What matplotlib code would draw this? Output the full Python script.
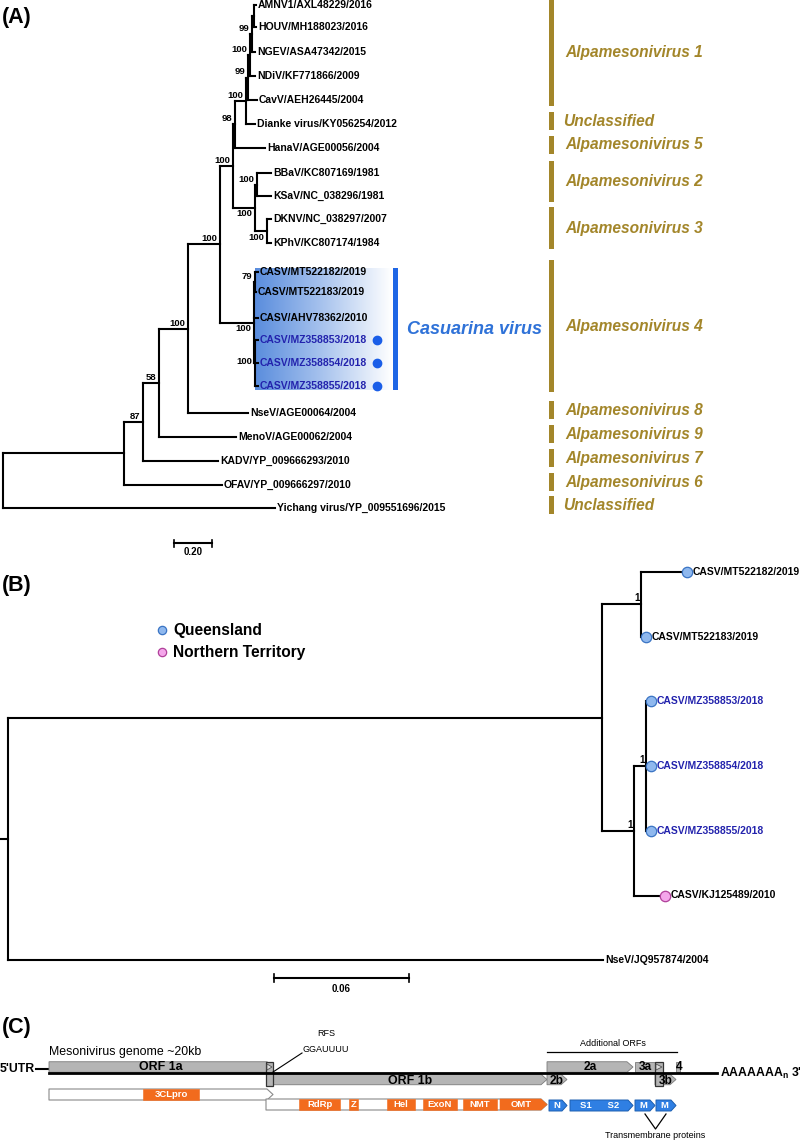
import matplotlib
matplotlib.use('Agg')
import matplotlib.pyplot as plt
import numpy as np
from matplotlib.collections import LineCollection
from matplotlib.patches import Polygon, Rectangle
from matplotlib.colors import LinearSegmentedColormap

plt.rcParams['font.family'] = ['Liberation Sans', 'DejaVu Sans']

# ======================= DATA =======================
# ---- Panel A: ML tree of mesoniviruses (branch lengths in subst./site, bootstrap %) ----
_n254 = "(AMNV1:0.011,HOUV:0.011)"
_n252 = "(" + _n254 + ":0.010,NGEV:0.015)99"
_n250 = "(" + _n252 + ":0.011,NDiV:0.026)100"
_n248 = "(" + _n250 + ":0.011,CavV:0.048)99"
_n246 = "(" + _n248 + ":0.010,Dianke:0.047)100"
_n235 = "(" + _n246 + ":0.058,HanaV:0.158)98"
_n255 = "((BBaV:0.074,KSaV:0.074)100:0.011,(DKNV:0.022,KPhV:0.022)100:0.063)100"
_n233 = "(" + _n235 + ":0.010," + _n255 + ":0.115)100"
_ncas = "((MT522182:0.016,MT522183:0.006)79:0.005,AHV:0.021,(MZ853:0.016,MZ854:0.016,MZ855:0.016)100:0.005)100"
_n220 = "(" + _n233 + ":0.069," + _ncas + ":0.179)100"
newick_A = "(((((" + _n220 + ":0.168,NseV:0.315)100:0.153,MenoV:0.405)58:0.084,KADV:0.395)87:0.100,OFAV:0.516):0.637,Yichang:1.432);"

tips_A = ['AMNV1', 'HOUV', 'NGEV', 'NDiV', 'CavV', 'Dianke', 'HanaV', 'BBaV', 'KSaV',
          'DKNV', 'KPhV', 'MT522182', 'MT522183', 'AHV', 'MZ853', 'MZ854', 'MZ855',
          'NseV', 'MenoV', 'KADV', 'OFAV', 'Yichang']
tip_labels_A = ['AMNV1/AXL48229/2016', 'HOUV/MH188023/2016', 'NGEV/ASA47342/2015',
                'NDiV/KF771866/2009', 'CavV/AEH26445/2004', 'Dianke virus/KY056254/2012',
                'HanaV/AGE00056/2004', 'BBaV/KC807169/1981', 'KSaV/NC_038296/1981',
                'DKNV/NC_038297/2007', 'KPhV/KC807174/1984', 'CASV/MT522182/2019',
                'CASV/MT522183/2019', 'CASV/AHV78362/2010', 'CASV/MZ358853/2018',
                'CASV/MZ358854/2018', 'CASV/MZ358855/2018', 'NseV/AGE00064/2004',
                'MenoV/AGE00062/2004', 'KADV/YP_009666293/2010', 'OFAV/YP_009666297/2010',
                'Yichang virus/YP_009551696/2015']
new_seqs_A = ['MZ853', 'MZ854', 'MZ855']
clade_names_A = ['Alpamesonivirus 1', 'Unclassified', 'Alpamesonivirus 5', 'Alpamesonivirus 2',
                 'Alpamesonivirus 3', 'Alpamesonivirus 4', 'Alpamesonivirus 8',
                 'Alpamesonivirus 9', 'Alpamesonivirus 7', 'Alpamesonivirus 6', 'Unclassified']
clade_first_A = ['AMNV1', 'Dianke', 'HanaV', 'BBaV', 'DKNV', 'MT522182', 'NseV', 'MenoV', 'KADV', 'OFAV', 'Yichang']
clade_last_A = ['CavV', 'Dianke', 'HanaV', 'KSaV', 'KPhV', 'MZ855', 'NseV', 'MenoV', 'KADV', 'OFAV', 'Yichang']
scale_A = 0.20

# ---- Panel B: CASV tree (posterior probabilities) ----
newick_B = "(((MT522182:0.0183,MT522183:0.0)1:0.0173,((MZ853:0.0,MZ854:0.0,MZ855:0.0)1:0.0054,KJ:0.0116)1:0.0142):0.264,NseV:0.2644);"
tips_B = ['MT522182', 'MT522183', 'MZ853', 'MZ854', 'MZ855', 'KJ', 'NseV']
tip_labels_B = ['CASV/MT522182/2019', 'CASV/MT522183/2019', 'CASV/MZ358853/2018',
                'CASV/MZ358854/2018', 'CASV/MZ358855/2018', 'CASV/KJ125489/2010',
                'NseV/JQ957874/2004']
origin_B = ['Queensland', 'Queensland', 'Queensland', 'Queensland', 'Queensland',
            'Northern Territory', None]
new_seqs_B = ['MZ853', 'MZ854', 'MZ855']
scale_B = 0.06

# ---- Panel C: genome organisation (nt coordinates, ~20 kb) ----
genome_len = 20040
orf_names = ['ORF 1a', 'ORF 1b', '2a', '2b', '3a', '3b', '4']
orf_start = [0, 6720, 14940, 14940, 17580, 18180, 18810]
orf_end = [6720, 14940, 17520, 15540, 18180, 18810, 18930]
orf_frame = [0, 1, 0, 1, 0, 1, 0]
orf_arrow = [True, True, True, True, False, True, False]
overlap_start = [6510, 18180]
overlap_end = [6720, 18420]
pp_start = [0, 6510]
pp_end = [6720, 14940]
nsp_names = ['3CLpro', 'RdRp', 'Z', 'Hel', 'ExoN', 'NMT', 'OMT']
nsp_start = [2820, 7500, 9000, 10140, 11220, 12420, 13530]
nsp_end = [4500, 8730, 9270, 10980, 12240, 13440, 14940]
nsp_row = [0, 1, 1, 1, 1, 1, 1]
sp_names = ['N', 'S1      S2', 'M', 'M']
sp_start = [15000, 15630, 17580, 18210]
sp_end = [15540, 17520, 18180, 18810]

# ======================= STYLE / LAYOUT =======================
GOLD = '#a3862a'
CAS_BLUE = '#2f72d8'
BAR_BLUE = '#1f66e5'
NEW_TXT = '#2323ad'
DOT_BLUE = '#1a5ee8'
ORANGE = '#f26b1d'
SBLUE = '#2f7fe3'
GREY = '#b5b5b5'
LW = 1.5

fig = plt.figure(figsize=(8, 11.41), dpi=100)
ax = fig.add_axes([0, 0, 1, 1])
ax.set_xlim(0, 800)
ax.set_ylim(1141, 0)
ax.axis('off')


def parse_newick(s):
    pos = 0

    def node():
        nonlocal pos
        ch = []
        if s[pos] == '(':
            pos += 1
            while True:
                ch.append(node())
                if s[pos] == ',':
                    pos += 1
                    continue
                if s[pos] == ')':
                    pos += 1
                    break
        st = pos
        while pos < len(s) and s[pos] not in ':,();':
            pos += 1
        name = s[st:pos]
        ln = 0.0
        if pos < len(s) and s[pos] == ':':
            pos += 1
            st = pos
            while pos < len(s) and s[pos] not in ',();':
                pos += 1
            ln = float(s[st:pos])
        return {'name': name, 'len': ln, 'children': ch}
    return node()


def layout(nd, xpar, ypos):
    nd['x'] = xpar + nd['len']
    if nd['children']:
        for c in nd['children']:
            layout(c, nd['x'], ypos)
        nd['y'] = (nd['children'][0]['y'] + nd['children'][-1]['y']) / 2
        nd['tips'] = [t for c in nd['children'] for t in c['tips']]
    else:
        nd['y'] = ypos[nd['name']]
        nd['tips'] = [nd['name']]


def collect(nd, x0, sc, segs, internals):
    px = x0 + nd['x'] * sc
    nd['px'] = px
    if nd['children']:
        for c in nd['children']:
            cx = x0 + c['x'] * sc
            segs.append([(px, c['y']), (cx, c['y'])])
            collect(c, x0, sc, segs, internals)
        segs.append([(px, nd['children'][0]['y']), (px, nd['children'][-1]['y'])])
        internals.append(nd)


def tips_of(nd, out):
    if nd['children']:
        for c in nd['children']:
            tips_of(c, out)
    else:
        out.append(nd)
    return out

# ======================= PANEL A =======================
rows_A = [5, 27, 52, 76, 100, 124, 148, 173, 196, 219, 243, 272, 292, 318, 340, 363, 386,
          413, 437, 461, 485, 508]
ypos_A = dict(zip(tips_A, rows_A))
x0A, scA = 3, 190.0
treeA = parse_newick(newick_A)
layout(treeA, 0.0, ypos_A)

# Casuarina highlight box (gradient)
cas_top = ypos_A['MT522182'] - 4
cas_bot = ypos_A['MZ855'] + 4
grad = np.linspace(0, 1, 256).reshape(1, -1)
cmap = LinearSegmentedColormap.from_list('cas', ['#5a8ddd', '#a9c4ee', '#ffffff'])
ax.imshow(grad, cmap=cmap, extent=[255, 392, cas_bot, cas_top], aspect='auto', zorder=0)
ax.add_patch(Rectangle((393, cas_top), 5, cas_bot - cas_top, color=BAR_BLUE, lw=0, zorder=1))
ax.text(407, (cas_top + cas_bot) / 2 + 1, 'Casuarina virus', color=CAS_BLUE, fontsize=13,
        fontweight='bold', fontstyle='italic', ha='left', va='center')

segs, internals = [], []
collect(treeA, x0A, scA, segs, internals)
ax.add_collection(LineCollection(segs, colors='black', linewidths=LW, capstyle='projecting', zorder=3))

below_A = {('BBaV', 'KPhV'), ('DKNV', 'KPhV'), ('MT522182', 'MZ855')}
center_A = {('MZ853', 'MZ855')}
for nd in internals:
    if not nd['name']:
        continue
    key = (nd['tips'][0], nd['tips'][-1])
    if key in below_A:
        ax.text(nd['px'] - 2.5, nd['y'] + 1.5, nd['name'], ha='right', va='top', fontsize=6.8, fontweight='bold', zorder=4)
    elif key in center_A:
        ax.text(nd['px'] - 3, nd['y'] - 1, nd['name'], ha='right', va='center', fontsize=6.8, fontweight='bold', zorder=4)
    else:
        ax.text(nd['px'] - 2.5, nd['y'] - 1, nd['name'], ha='right', va='bottom', fontsize=6.8, fontweight='bold', zorder=4)

lab_A = dict(zip(tips_A, tip_labels_A))
for t in tips_of(treeA, []):
    col = NEW_TXT if t['name'] in new_seqs_A else 'black'
    ax.text(t['px'] + 2, t['y'], lab_A[t['name']], ha='left', va='center', fontsize=7.5,
            fontweight='bold', color=col, zorder=4)
    if t['name'] in new_seqs_A:
        ax.plot([377], [t['y']], 'o', ms=6, color=DOT_BLUE, mec=DOT_BLUE, zorder=4)

for name, f, l in zip(clade_names_A, clade_first_A, clade_last_A):
    top = max(ypos_A[f] - 12, 0)
    bot = ypos_A[l] + 6
    ax.add_patch(Rectangle((549, top), 5, bot - top, color=GOLD, lw=0))
    ax.text(565 if name != 'Unclassified' else 563, (top + bot) / 2, name, color=GOLD,
            fontsize=11.2, fontweight='bold', fontstyle='italic', ha='left', va='center')

# scale bar A
sx0 = 174
ax.plot([sx0, sx0 + scale_A * scA], [543, 543], color='black', lw=LW)
ax.plot([sx0, sx0], [539.5, 546.5], color='black', lw=1.2)
ax.plot([sx0 + scale_A * scA] * 2, [539.5, 546.5], color='black', lw=1.2)
ax.text(sx0 + scale_A * scA / 2, 552, f'{scale_A:.2f}', ha='center', va='center', fontsize=7, fontweight='bold')

ax.text(2, 18, '(A)', fontsize=15.5, fontweight='bold', ha='left', va='center')

# ======================= PANEL B =======================
rows_B = 572 + 64.7 * np.arange(len(tips_B))
ypos_B = dict(zip(tips_B, rows_B))
x0B, scB = 8, 2250.0
treeB = parse_newick(newick_B)
layout(treeB, 0.0, ypos_B)
segs, internals = [], []
collect(treeB, x0B, scB, segs, internals)
segs.append([(0, treeB['y']), (x0B, treeB['y'])])
ax.add_collection(LineCollection(segs, colors='black', linewidths=LW, capstyle='projecting', zorder=3))
for nd in internals:
    if nd['name']:
        ax.text(nd['px'] - 1.5, nd['y'] - 1, nd['name'], ha='right', va='bottom', fontsize=7, fontweight='bold', zorder=4)

marker_style = {'Queensland': ('#8fb8ee', '#3a74c4'), 'Northern Territory': ('#f4a6ea', '#b0409a')}
lab_B = dict(zip(tips_B, tip_labels_B))
org_B = dict(zip(tips_B, origin_B))
for t in tips_of(treeB, []):
    col = NEW_TXT if t['name'] in new_seqs_B else 'black'
    o = org_B[t['name']]
    off = 2
    if o is not None:
        fc, ec = marker_style[o]
        ax.plot([t['px'] + 5], [t['y']], 'o', ms=7.5, mfc=fc, mec=ec, mew=0.9, zorder=5)
        off = 11
    ax.text(t['px'] + off, t['y'], lab_B[t['name']], ha='left', va='center', fontsize=7.5,
            fontweight='bold', color=col, zorder=4)

for i, o in enumerate(['Queensland', 'Northern Territory']):
    fc, ec = marker_style[o]
    yy = 630 + 22 * i
    ax.plot([162], [yy], 'o', ms=6, mfc=fc, mec=ec, mew=0.9)
    ax.text(173, yy, o, ha='left', va='center', fontsize=11.2, fontweight='bold')

sx0 = 274
ax.plot([sx0, sx0 + scale_B * scB], [978, 978], color='black', lw=LW)
ax.plot([sx0, sx0], [974, 982], color='black', lw=1.2)
ax.plot([sx0 + scale_B * scB] * 2, [974, 982], color='black', lw=1.2)
ax.text(sx0 + scale_B * scB / 2, 989, f'{scale_B:.2f}', ha='center', va='center', fontsize=7, fontweight='bold')

ax.text(2, 585, '(B)', fontsize=15.5, fontweight='bold', ha='left', va='center')

# ======================= PANEL C =======================
gx0, gsc = 49, 1 / 30.0


def gx(nt):
    return gx0 + nt * gsc


def arrow(x0, x1, yc, h, tip=6, arrow_on=True):
    if not arrow_on:
        return [(x0, yc - h / 2), (x1, yc - h / 2), (x1, yc + h / 2), (x0, yc + h / 2)]
    b = max(x1 - tip, x0)
    return [(x0, yc - h / 2), (b, yc - h / 2), (x1, yc), (b, yc + h / 2), (x0, yc + h / 2)]


ax.text(2, 1027, '(C)', fontsize=15.5, fontweight='bold', ha='left', va='center')
ax.text(49, 1052, 'Mesonivirus genome ~20kb', fontsize=8.9, ha='left', va='center')
ax.text(0, 1069, "5'UTR", fontsize=8.8, fontweight='bold', ha='left', va='center')
ax.plot([36, 49], [1069, 1069], color='black', lw=1.5)

frame_y = [1067, 1079.5]
text_dy = [0, 1.0]
for nm, s, e, fr, ar in zip(orf_names, orf_start, orf_end, orf_frame, orf_arrow):
    ax.add_patch(Polygon(arrow(gx(s), gx(e), frame_y[fr], 10.5, 6, ar), closed=True,
                         fc=GREY, ec='#7a7a7a', lw=0.6, zorder=2))
    cx = (gx(s) + gx(e)) / 2
    if nm == '4':
        cx = gx(e) - 1
    ax.text(cx, frame_y[fr] + text_dy[fr], nm, fontsize=8.9 if len(nm) > 2 else 8.6, fontweight='bold',
            ha='center', va='center', zorder=6)
for s, e in zip(overlap_start, overlap_end):
    ax.add_patch(Rectangle((gx(s), 1062), gx(e) - gx(s), 24, fc=GREY, ec='#333333', lw=0.9, zorder=3))
    ax.add_patch(Polygon([(gx(s) + 1, 1064), (gx(e) - 1, 1067), (gx(s) + 1, 1070)], closed=True,
                         fc='#dddddd', ec='#555555', lw=0.6, zorder=4))
ax.plot([gx(0), gx(genome_len)], [1073, 1073], color='black', lw=2.0, zorder=5)
ax.text(gx(genome_len) + 3, 1073, r"AAAAAAA$_\mathregular{n}$ 3'", fontsize=8.8, fontweight='bold',
        ha='left', va='center')

ax.plot([gx(6720), 302], [1072, 1053], color='black', lw=0.8, zorder=6)
ax.text(326, 1034, 'RFS', fontsize=6.5, ha='center', va='center')
ax.text(326, 1049, 'GGAUUUU', fontsize=6.5, ha='center', va='center')

ax.plot([gx(14940), gx(18930) - 3], [1052, 1052], color='black', lw=0.9)
ax.text((gx(14940) + gx(18930)) / 2 - 1, 1043, 'Additional ORFs', fontsize=6.5, ha='center', va='center')

pp_y = [1094.5, 1104.5]
for i, (s, e) in enumerate(zip(pp_start, pp_end)):
    ax.add_patch(Polygon(arrow(gx(s), gx(e), pp_y[i], 11, 6), closed=True, fc='white',
                         ec='#8a8a8a', lw=0.8, zorder=2, joinstyle='round'))
for nm, s, e, r in zip(nsp_names, nsp_start, nsp_end, nsp_row):
    ar = nm == 'OMT'
    ax.add_patch(Polygon(arrow(gx(s), gx(e), pp_y[r], 11, 6, ar), closed=True, fc=ORANGE,
                         ec=ORANGE, lw=0.4, zorder=3))
    ax.text((gx(s) + gx(e) - (4 if ar else 0)) / 2, pp_y[r], nm, color='white', fontsize=6.8,
            fontweight='bold', ha='center', va='center', zorder=4)
for nm, s, e in zip(sp_names, sp_start, sp_end):
    ax.add_patch(Polygon(arrow(gx(s), gx(e), pp_y[1] + 1, 11, 5), closed=True, fc=SBLUE,
                         ec='#1d5fb0', lw=0.7, zorder=3, joinstyle='round'))
    ax.text((gx(s) + gx(e) - 3) / 2, pp_y[1] + 1, nm, color='white', fontsize=6.8,
            fontweight='bold', ha='center', va='center', zorder=4)

m1 = (gx(sp_start[2]) + gx(sp_end[2])) / 2
m2 = (gx(sp_start[3]) + gx(sp_end[3])) / 2
ax.plot([m1, (m1 + m2) / 2, m2], [1114, 1129, 1114], color='black', lw=0.9)
ax.text((m1 + m2) / 2, 1136, 'Transmembrane proteins', fontsize=6.5, ha='center', va='center')

fig.savefig('out.png', dpi=100)
